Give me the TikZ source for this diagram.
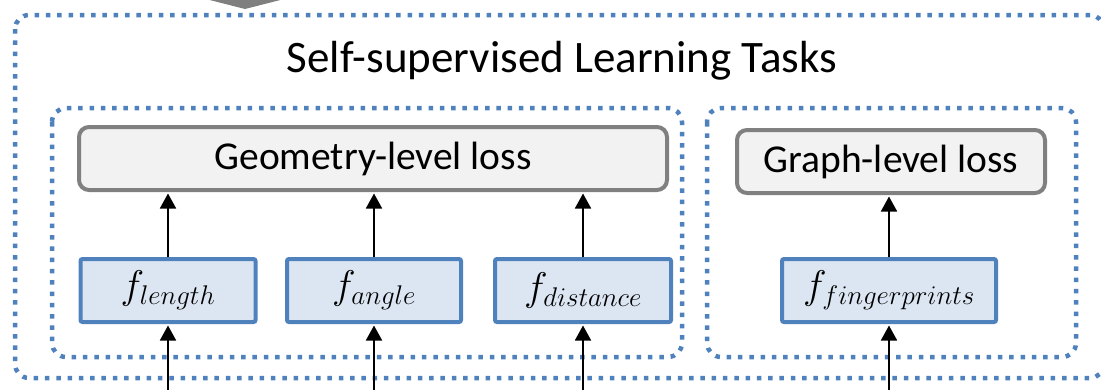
\RequirePackage{fix-cm}
\documentclass[tikz,border=0pt]{standalone}
\usepackage{fontspec}
\setmainfont{Carlito}
\DeclareMathSizes{40}{40}{27}{20}
\usetikzlibrary{arrows.meta}
\definecolor{dotblue}{HTML}{4F81BD}
\definecolor{fblue}{HTML}{DCE6F2}
\definecolor{fborder}{HTML}{4F81BD}
\definecolor{lossfill}{HTML}{F2F2F2}
\definecolor{lossdraw}{HTML}{808080}
\definecolor{bigarrow}{HTML}{7F7F7F}
\tikzset{
  dotbox/.style={draw=dotblue, line width=4.5pt, dash pattern=on 4.5pt off 6.8pt, rounded corners=14pt},
  lossbox/.style={draw=lossdraw, fill=lossfill, line width=4pt, rounded corners=10pt, minimum height=63pt, inner sep=0pt, font=\fontsize{39.5}{44}\selectfont},
  fbox/.style={draw=fborder, fill=fblue, line width=4pt, rounded corners=2pt, minimum height=63pt, inner sep=0pt, font=\fontsize{40}{44}\selectfont},
  arr/.style={-{Triangle[width=16pt,length=15pt]}, line width=1.8pt, shorten >=1.5pt}
}
\begin{document}
\begin{tikzpicture}[x=1pt,y=-1pt]
\useasboundingbox (0,0) rectangle (1101,389);
% big gray arrow tip at top
\fill[bigarrow] (190,-5) -- (300,-5) -- (245,9) -- cycle;
% dotted containers
\draw[dotbox] (15,15) rectangle (1104,378);
\draw[dotbox] (52,108) rectangle (682,357);
\draw[dotbox] (707,108) rectangle (1076,357);
% title
\node[anchor=base, font=\fontsize{45}{52}\selectfont, inner sep=0pt] (title) at (562,72) {Self-supervised Learning Tasks};
% loss boxes
\node[lossbox, minimum width=588pt] (geo) at (373,158.5) {Geometry-level loss};
\node[lossbox, minimum width=308pt] (graph) at (891,161.5) {Graph-level loss};
% f boxes
\node[fbox, minimum width=175pt] (flen) at (168,290.5) {$f_{length}$};
\node[fbox, minimum width=174pt] (fang) at (374,290.5) {$f_{angle}$};
\node[fbox, minimum width=176pt] (fdis) at (583,290.5) {$f_{distance}$};
\node[fbox, minimum width=214pt] (ffin) at (889,290.5) {$f_{fingerprints}$};
% inputs from below
\coordinate (inlen) at (168,400);
\coordinate (inang) at (374,400);
\coordinate (indis) at (583,400);
\coordinate (infin) at (889,400);
\draw[arr] (inlen) -- (flen.south);
\draw[arr] (inang) -- (fang.south);
\draw[arr] (indis) -- (fdis.south);
\draw[arr] (infin) -- (ffin.south);
% to losses
\draw[arr] (flen.north) -- (flen.north |- geo.south);
\draw[arr] (fang.north) -- (fang.north |- geo.south);
\draw[arr] (fdis.north) -- (fdis.north |- geo.south);
\draw[arr] (ffin.north) -- (ffin.north |- graph.south);
\end{tikzpicture}
\end{document}
